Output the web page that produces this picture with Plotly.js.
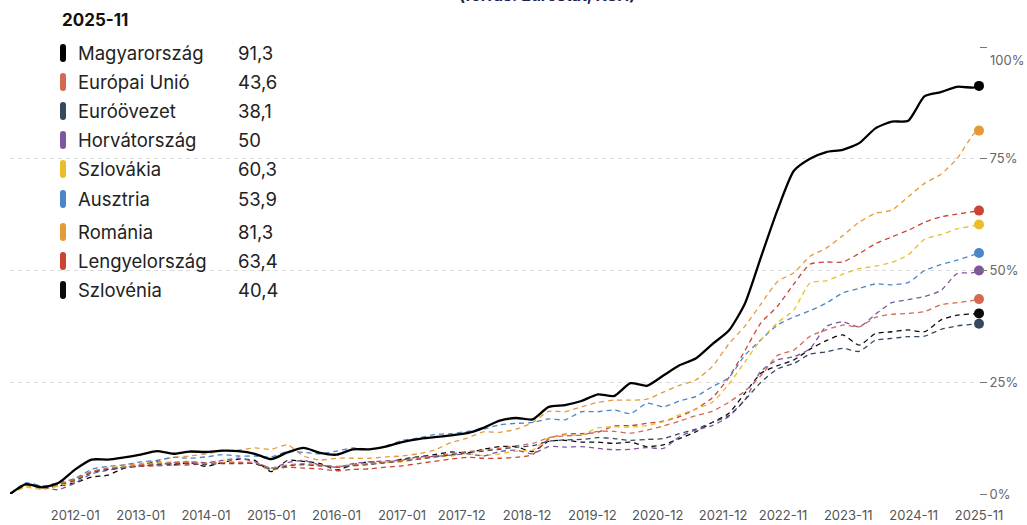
<!DOCTYPE html>
<html>
<head>
<meta charset="utf-8">
<script src="https://cdn.plot.ly/plotly-3.0.1.min.js"></script>
<style>
  html, body { margin: 0; padding: 0; background: #fff; }
  #chart { width: 1027px; height: 525px; }
</style>
</head>
<body>
<div id="chart"></div>
<script>
// negyedéves pontok 2011-01 .. 2025-10, plusz 2025-11
let dates = [];
for (let m = 0; m < 180; m += 3) {
    let y = 2011 + Math.floor(m / 12);
    let mo = (m % 12) + 1;
    dates.push(y + '-' + (mo < 10 ? '0' + mo : mo) + '-01');
}
dates.push('2025-11-01');

let names = ['Magyarország', 'Európai Unió', 'Euróövezet', 'Horvátország', 'Szlovákia', 'Ausztria', 'Románia', 'Lengyelország', 'Szlovénia'];
let lastValues = ['91,3', '43,6', '38,1', '50', '60,3', '53,9', '81,3', '63,4', '40,4'];
let colors = ['#000000', '#d4694f', '#34495e', '#7f55a0', '#ebbd2b', '#4a86c8', '#e39a38', '#cc4431', '#0a0a0a'];

let hungary = [
    0, 2.2, 1.5, 2.5,
    5.5, 7.7, 7.7, 8.2,
    8.8, 9.6, 9.0, 9.5,
    9.4, 9.7, 9.6, 9.0,
    7.8, 9.3, 10.3, 9.2,
    8.8, 10.0, 10.0, 10.6,
    11.6, 12.3, 12.7, 13.1,
    13.6, 14.8, 16.4, 17.0,
    16.7, 19.5, 19.9, 20.8,
    22.3, 21.9, 24.8, 24.2,
    26.5, 28.8, 30.3, 33.5,
    36.5, 42.5, 53.0, 63.5,
    72.3, 75.0, 76.5, 77.0,
    78.5, 81.8, 83.3, 83.5,
    89.0, 89.9, 91.1, 90.9,
    91.3];
let eu = [
    0, 2.0, 1.5, 2.2,
    3.3, 5.0, 5.8, 6.0,
    6.5, 6.8, 7.0, 7.0,
    6.8, 7.0, 7.0, 7.0,
    5.8, 6.5, 6.8, 6.5,
    6.2, 6.5, 6.8, 7.2,
    7.5, 8.0, 8.5, 9.0,
    9.5, 9.8, 10.2, 10.8,
    11.3, 12.6, 13.0, 13.2,
    14.0, 14.0, 13.6, 14.3,
    15.2, 16.3, 17.5, 18.5,
    20.5, 23.0, 26.5, 31.0,
    32.2, 35.3, 36.7, 37.8,
    37.4, 39.5, 40.2, 40.4,
    40.8, 42.3, 42.8, 43.3,
    43.6];
let eurozone = [
    0, 2.0, 1.5, 2.2,
    3.0, 4.8, 5.5, 5.8,
    6.3, 6.6, 6.8, 6.8,
    6.6, 6.8, 6.8, 6.8,
    5.5, 6.3, 6.6, 6.3,
    6.0, 6.3, 6.6, 7.0,
    7.4, 7.8, 8.3, 8.8,
    9.3, 9.6, 10.0, 10.5,
    10.8, 11.8, 12.1, 12.2,
    12.6, 12.4, 12.0, 12.2,
    12.4, 13.5, 14.5, 16.0,
    17.5, 21.0, 25.0, 28.0,
    29.2, 31.3, 31.8, 32.6,
    31.9, 34.4, 34.8, 35.2,
    35.3, 36.8, 37.6, 38.0,
    38.1];
let croatia = [
    0, 2.0, 1.5, 1.0,
    2.5, 4.5, 5.3, 6.0,
    6.3, 6.5, 7.0, 7.2,
    7.0, 7.5, 8.0, 7.2,
    5.8, 7.0, 7.5, 6.5,
    6.0, 6.8, 7.2, 7.4,
    7.6, 8.3, 8.4, 8.7,
    9.0, 8.5, 9.5, 9.8,
    9.0, 10.6, 10.5, 10.6,
    10.2, 9.9, 10.0, 10.4,
    10.2, 12.8, 14.3, 15.3,
    17.3, 21.0, 27.5, 30.0,
    30.7, 32.5, 37.5, 38.5,
    37.4, 40.2, 42.8, 43.5,
    44.2, 45.5, 49.3, 49.5,
    50.0];
let slovakia = [
    0, 1.5, 1.0, 1.8,
    3.0, 5.0, 5.8, 6.2,
    6.5, 7.0, 7.2, 7.3,
    7.0, 7.5, 7.2, 7.0,
    5.3, 6.3, 6.5, 6.3,
    6.0, 6.5, 6.8, 7.0,
    7.2, 7.8, 8.2, 8.5,
    9.0, 8.6, 9.0, 9.6,
    9.8, 12.6, 13.2, 13.2,
    14.8, 15.0, 15.0, 15.3,
    16.2, 17.7, 19.0, 20.5,
    24.5, 29.5, 34.5, 38.3,
    41.2, 47.2, 47.7, 49.2,
    50.4, 51.0, 51.8, 53.5,
    57.0, 58.0, 59.3, 60.0,
    60.3];
let austria = [
    0, 2.5, 1.8, 2.5,
    3.5, 5.5, 6.2, 6.5,
    7.2, 7.5, 8.2, 8.0,
    8.3, 8.8, 8.5, 8.5,
    8.3, 9.5, 9.3, 9.0,
    9.6, 10.3, 10.0, 10.6,
    12.0, 12.5, 13.3, 13.5,
    14.0, 14.5, 15.5, 15.8,
    16.0, 16.8, 16.6, 18.4,
    18.4, 18.8, 18.0, 20.3,
    19.5, 20.8, 21.8, 24.0,
    26.0, 31.0, 34.5, 37.8,
    39.6, 41.0, 42.7, 45.0,
    46.0, 47.0, 46.8, 47.3,
    50.0, 51.3, 52.3, 53.5,
    53.9];
let romania = [
    0, 1.8, 1.2, 2.0,
    3.5, 5.0, 5.5, 6.5,
    6.8, 7.5, 8.2, 8.5,
    9.0, 9.6, 9.8, 10.3,
    10.0, 11.0, 8.5, 7.6,
    8.0, 8.0, 8.0, 8.3,
    8.5, 9.0, 9.8, 11.5,
    12.5, 13.9, 13.8, 14.5,
    16.0, 18.5, 18.4, 19.5,
    20.5, 21.0, 21.0, 21.2,
    22.8, 24.3, 25.5, 28.5,
    33.5, 37.5, 42.5, 47.5,
    49.5, 53.2, 55.0, 57.8,
    60.8, 62.8, 63.5, 66.5,
    69.5, 71.5, 75.0, 80.5,
    81.3];
let poland = [
    0, 2.0, 1.8, 2.0,
    3.3, 5.0, 5.5, 6.0,
    6.2, 6.3, 6.5, 6.5,
    6.8, 7.0, 7.0, 6.8,
    5.5, 6.0, 5.8, 5.6,
    5.2, 5.5, 5.6, 6.0,
    6.3, 6.8, 7.3, 7.8,
    8.2, 8.0, 8.0, 8.2,
    8.8, 12.3, 13.4, 13.5,
    13.8, 15.2, 15.3, 15.8,
    16.3, 17.3, 19.0, 21.5,
    26.0, 32.0, 38.3, 42.0,
    47.0, 51.4, 51.9, 51.9,
    53.8, 56.0, 57.5, 59.0,
    60.8, 62.0, 62.6, 63.2,
    63.4];
let slovenia = [
    0, 2.2, 1.5, 1.8,
    2.5, 3.8, 4.2, 5.8,
    6.5, 7.2, 6.5, 7.0,
    6.2, 7.0, 7.8, 7.5,
    5.0, 7.5, 7.3, 6.8,
    5.4, 6.5, 7.2, 7.0,
    7.8, 8.3, 8.8, 9.4,
    9.2, 10.0, 10.6, 10.6,
    9.5, 11.8, 12.0, 11.6,
    11.6, 11.3, 11.6, 10.6,
    11.0, 12.4, 13.9, 16.0,
    18.0, 22.5, 27.0, 28.7,
    30.0, 32.4, 34.3, 35.6,
    33.3, 35.9, 36.3, 36.7,
    36.3, 38.9, 40.0, 40.3,
    40.4];

let series = [hungary, eu, eurozone, croatia, slovakia, austria, romania, poland, slovenia];

let tickDates = ['2012-01-01', '2013-01-01', '2014-01-01', '2015-01-01', '2016-01-01', '2017-01-01', '2017-12-01',
    '2018-12-01', '2019-12-01', '2020-12-01', '2021-12-01', '2022-11-01', '2023-11-01', '2024-11-01', '2025-11-01'];
let tickLabels = ['2012-01', '2013-01', '2014-01', '2015-01', '2016-01', '2017-01', '2017-12',
    '2018-12', '2019-12', '2020-12', '2021-12', '2022-11', '2023-11', '2024-11', '2025-11'];
let yTicks = [0, 25, 50, 75, 100];
let yLabels = ['0%', '25%', '50%', '75%', ''];

// plot area in pixels: left 10, right 979, top 47, bottom 494
let W = 1027, H = 525, L = 10, R = 48, T = 47, B = 31;
function px(x) { return (x - L) / (W - L - R); }
function py(y) { return (H - B - y) / (H - T - B); }

let traces = [];
// dashed lines first, Hungary drawn on top
for (let i = series.length - 1; i >= 0; i--) {
    let s = series[i];
    traces.push({
        x: dates, y: s, type: 'scatter', mode: 'lines', name: names[i],
        line: { color: colors[i], width: i == 0 ? 2.3 : 1.3, dash: i == 0 ? 'solid' : '5px,4px', shape: 'spline', smoothing: 0.6 },
        hoverinfo: 'skip'
    });
}
for (let i = series.length - 1; i >= 0; i--) {
    let s = series[i];
    traces.push({
        x: [dates[dates.length - 1]], y: [s[s.length - 1]], type: 'scatter', mode: 'markers',
        marker: { color: colors[i], size: 10 }, cliponaxis: false, hoverinfo: 'skip'
    });
}

let font = 'Inter, "Open Sans", sans-serif';
let annotations = [];
let shapes = [];
annotations.push({
    xref: 'paper', yref: 'paper', x: px(60), y: py(20), xanchor: 'left', yanchor: 'middle',
    text: '<b>2025-11</b>', showarrow: false, font: { family: font, size: 17, color: '#111' }
});
annotations.push({
    xref: 'paper', yref: 'paper', x: px(547), y: py(7), xanchor: 'center', yanchor: 'bottom',
    text: '<b>(forrás: Eurostat, KSH)</b>', showarrow: false, font: { family: font, size: 16, color: '#231f4f' }
});
// the 100% label sits a little below its tick in the original
annotations.push({
    xref: 'paper', yref: 'paper', x: px(988), y: py(60), xanchor: 'left', yanchor: 'middle',
    text: '100%', showarrow: false, font: { family: font, size: 13, color: '#666' }
});
let rowY = [53, 82, 111, 140, 169, 199, 232, 261, 290];
for (let i = 0; i < names.length; i++) {
    let cy = rowY[i];
    annotations.push({
        xref: 'paper', yref: 'paper', x: px(76), y: py(cy), xanchor: 'left', yanchor: 'middle',
        text: names[i], showarrow: false, font: { family: font, size: 18.5, color: '#222' }
    });
    annotations.push({
        xref: 'paper', yref: 'paper', x: px(236), y: py(cy), xanchor: 'left', yanchor: 'middle',
        text: lastValues[i], showarrow: false, font: { family: font, size: 18.5, color: '#222' }
    });
    let cx = 63;
    shapes.push({
        type: 'path', xref: 'paper', yref: 'paper', fillcolor: colors[i], line: { width: 0 },
        path: 'M' + px(cx - 3) + ',' + py(cy - 6) + ' L' + px(cx - 3) + ',' + py(cy + 6) +
            ' Q' + px(cx - 3) + ',' + py(cy + 9) + ' ' + px(cx) + ',' + py(cy + 9) +
            ' Q' + px(cx + 3) + ',' + py(cy + 9) + ' ' + px(cx + 3) + ',' + py(cy + 6) +
            ' L' + px(cx + 3) + ',' + py(cy - 6) +
            ' Q' + px(cx + 3) + ',' + py(cy - 9) + ' ' + px(cx) + ',' + py(cy - 9) +
            ' Q' + px(cx - 3) + ',' + py(cy - 9) + ' ' + px(cx - 3) + ',' + py(cy - 6) + ' Z'
    });
}

let layout = {
    width: W, height: H,
    margin: { l: L, r: R, t: T, b: B },
    paper_bgcolor: '#fff',
    plot_bgcolor: '#fff',
    showlegend: false,
    font: { family: font, color: '#555' },
    xaxis: {
        type: 'date',
        range: ['2011-01-01', '2025-11-01'],
        tickvals: tickDates,
        ticktext: tickLabels,
        showgrid: false, zeroline: false, showline: false,
        ticks: '', ticklabelstandoff: 12,
        tickfont: { family: font, size: 13, color: '#555' }
    },
    yaxis: {
        side: 'right',
        range: [0, 100],
        tickvals: yTicks,
        ticktext: yLabels,
        showgrid: true, gridcolor: '#dcdcdc', griddash: '4px,4px', gridwidth: 1,
        zeroline: false, showline: false,
        ticks: 'outside', ticklen: 7, tickcolor: '#777', tickwidth: 1,
        tickfont: { family: font, size: 13, color: '#666' }
    },
    annotations: annotations,
    shapes: shapes
};

Plotly.newPlot('chart', traces, layout, { displayModeBar: false, staticPlot: true });
</script>
</body>
</html>
